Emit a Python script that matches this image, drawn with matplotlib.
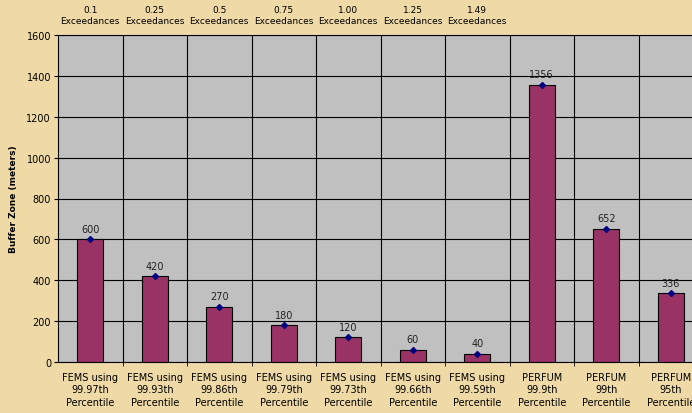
import matplotlib.pyplot as plt
import numpy as np

categories = ["FEMS using\n99.97th\nPercentile", "FEMS using\n99.93th\nPercentile",
              "FEMS using\n99.86th\nPercentile", "FEMS using\n99.79th\nPercentile",
              "FEMS using\n99.73th\nPercentile", "FEMS using\n99.66th\nPercentile",
              "FEMS using\n99.59th\nPercentile", "PERFUM\n99.9th\nPercentile",
              "PERFUM\n99th\nPercentile", "PERFUM\n95th\nPercentile"]
buffer_zone = [600, 420, 270, 180, 120, 60, 40, 1356, 652, 336]
exceedances = ["0.1", "0.25", "0.5", "0.75", "1.00", "1.25", "1.49"]

bg = "#EFD9A6"
fig = plt.figure(figsize=(6.92, 4.14), dpi=100, facecolor=bg)
ax = fig.add_axes([58/692, 1 - 363/414, (703 - 58)/692, (363 - 36)/414])
ax.set_facecolor("#C0C0C0")

x = np.arange(len(categories))
ax.bar(x, buffer_zone, width=0.4, color="#993366", edgecolor="black", linewidth=0.8, zorder=3)
ax.plot(x, buffer_zone, linestyle="none", marker="D", markersize=3,
        color="#000080", zorder=4)
for xi, v in zip(x, buffer_zone):
    ax.annotate(str(v), (xi, v), xytext=(0, 4), textcoords="offset points",
                ha="center", va="bottom", fontsize=7, color="#222222", zorder=5)

# exceedance notes above the first seven columns
for i, e in enumerate(exceedances):
    ax.text(i, 1.03, e + "\nExceedances", transform=ax.get_xaxis_transform(),
            ha="center", va="bottom", fontsize=6.5, linespacing=1.35)

ax.set_xlim(-0.5, len(categories) - 0.5)
ax.set_ylim(0, 1600)
ax.set_yticks(np.arange(0, 1601, 200))
ax.set_xticks(x)
ax.set_xticklabels(categories, fontsize=7, linespacing=1.3)
ax.set_xticks(np.arange(0.5, len(categories) - 0.5, 1), minor=True)
ax.tick_params(axis="x", which="major", length=0, pad=7)
ax.tick_params(axis="x", which="minor", length=3, direction="out")
ax.tick_params(axis="y", labelsize=7, length=3, direction="out", pad=2)
ax.grid(axis="y", which="major", color="black", linewidth=0.8, zorder=1)
ax.grid(axis="x", which="minor", color="black", linewidth=0.8, zorder=1)
ax.set_axisbelow(True)
for s in ax.spines.values():
    s.set_linewidth(0.8)

ax.set_ylabel("Buffer Zone (meters)", fontsize=6.5, fontweight="bold", labelpad=6)

fig.savefig("out.png", dpi=100, facecolor=bg)
